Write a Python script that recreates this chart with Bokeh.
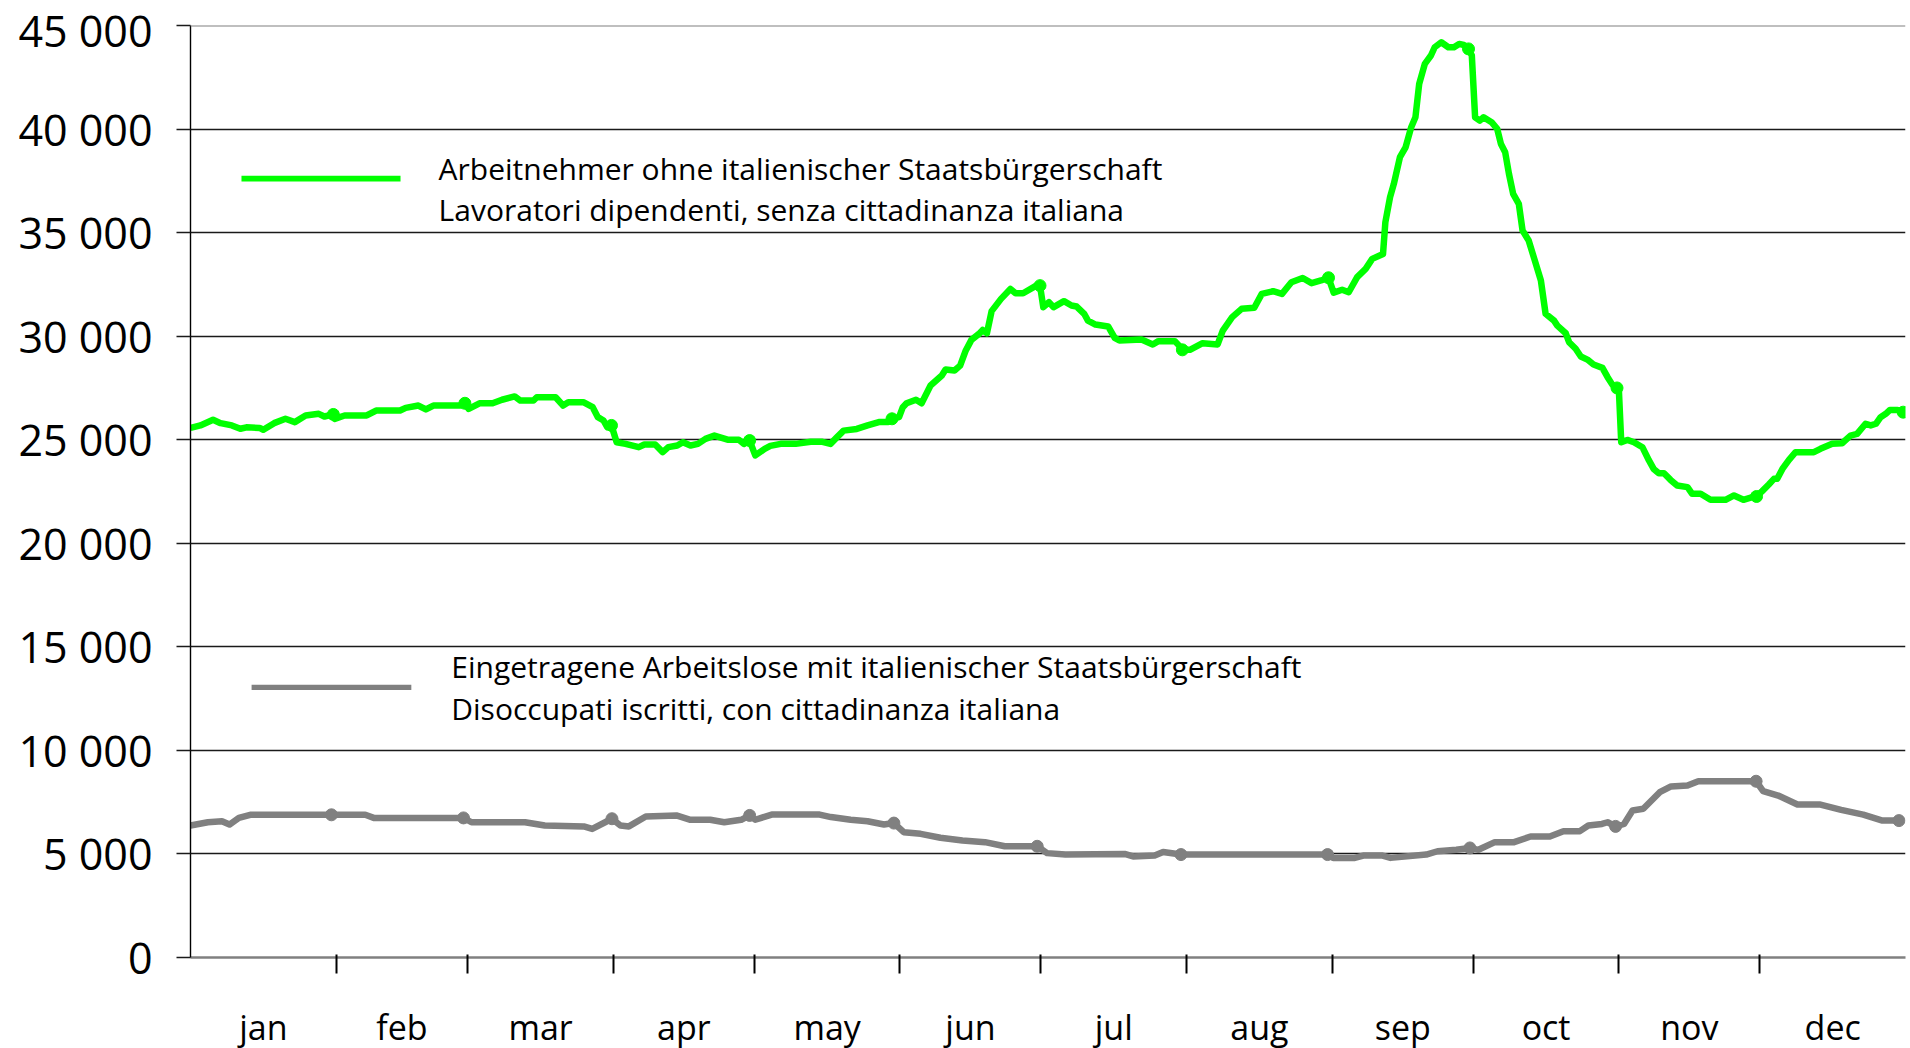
from bokeh.plotting import figure
from bokeh.models import (FixedTicker, Span, BoxAnnotation, Label, Range1d,
                          CustomJSTickFormatter)
from bokeh.embed import file_html
from bokeh.resources import INLINE

# ---------------- data ----------------
months = ["jan", "feb", "mar", "apr", "may", "jun",
          "jul", "aug", "sep", "oct", "nov", "dec"]
month_len = [31, 28, 31, 30, 31, 30, 31, 31, 30, 31, 30, 31]
y_ticks = [0, 5000, 10000, 15000, 20000, 25000, 30000, 35000, 40000, 45000]

# Arbeitnehmer ohne italienischer Staatsbuergerschaft (day of year, value)
green_day = [0.0, 2.1, 4.8, 6.4, 8.8, 10.6, 11.9, 14.7, 15.5, 17.8,
             20.2, 22.2, 24.5, 27.3, 28.5, 30.4, 30.7, 32.8, 37.5, 39.5,
             44.6, 45.8, 48.5, 50.1, 51.7, 57.6, 58.4, 59.2, 61.5, 64.3,
             66.3, 69.0, 70.2, 73.0, 73.7, 77.7, 79.3, 80.4, 83.6, 85.6,
             86.7, 87.9, 88.7, 89.6, 90.7, 92.6, 95.4, 96.6, 98.9, 100.5,
             101.7, 103.6, 104.8, 106.4, 108.0, 109.6, 111.5, 114.3, 116.7, 117.8,
             119.0, 120.2, 122.2, 123.4, 125.6, 128.8, 132.0, 134.5, 136.2, 137.5,
             139.0, 141.8, 144.1, 146.5, 148.5, 149.3, 150.8, 151.6, 152.4, 154.4,
             155.6, 157.5, 159.9, 160.7, 162.6, 163.8, 165.0, 166.2, 167.8, 168.6,
             169.5, 170.5, 172.5, 174.5, 175.6, 177.2, 180.0, 180.8, 181.5, 182.7,
             183.7, 185.9, 187.5, 188.6, 190.2, 191.0, 192.6, 195.3, 196.7, 197.7,
             202.4, 204.8, 206.0, 209.5, 210.7, 211.1, 212.7, 215.4, 218.6, 219.7,
             221.7, 223.7, 226.4, 228.0, 230.4, 232.3, 234.3, 236.7, 238.6, 240.6,
             242.2, 243.3, 245.1, 246.5, 248.3, 250.1, 251.5, 253.8, 254.3, 255.3,
             256.1, 257.4, 258.6, 259.8, 260.7, 261.5, 262.7, 264.0, 264.8, 266.2,
             267.7, 268.9, 270.0, 271.0, 272.0, 272.7, 273.4, 274.4, 275.2, 276.9,
             278.1, 278.9, 279.8, 280.6, 281.5, 282.7, 283.5, 284.8, 286.0, 287.4,
             288.4, 290.2, 290.9, 292.7, 293.4, 294.8, 295.9, 297.3, 298.6, 300.5,
             301.6, 302.6, 303.6, 304.0, 304.5, 305.8, 307.2, 309.0, 310.4, 311.4,
             312.5, 313.6, 315.0, 316.4, 318.6, 319.6, 321.4, 323.5, 326.7, 328.5,
             330.5, 332.4, 333.3, 334.5, 335.9, 337.0, 337.7, 338.8, 340.2, 341.6,
             345.5, 346.9, 349.4, 351.5, 353.3, 354.7, 356.5, 357.6, 358.7, 359.7,
             360.8, 361.7, 363.3, 364.5]
green_val = [25570, 25690, 25960, 25800, 25690, 25530, 25600, 25570, 25480, 25800,
             26010, 25850, 26170, 26250, 26120, 26220, 26010, 26170, 26170, 26410,
             26410, 26540, 26650, 26460, 26650, 26650, 26760, 26490, 26760, 26760,
             26930, 27090, 26890, 26890, 27050, 27050, 26650, 26810, 26810, 26570,
             26090, 25930, 25600, 25690, 24880, 24800, 24640, 24770, 24770, 24400,
             24640, 24720, 24880, 24720, 24800, 25040, 25200, 25000, 25000, 24800,
             24960, 24240, 24560, 24700, 24800, 24800, 24900, 24900, 24800, 25100,
             25440, 25520, 25690, 25850, 25850, 26010, 26090, 26570, 26760, 26930,
             26760, 27620, 28100, 28390, 28340, 28580, 29310, 29820, 30110, 30300,
             30140, 31210, 31800, 32280, 32070, 32070, 32440, 32440, 31400, 31640,
             31400, 31690, 31480, 31430, 31080, 30750, 30560, 30470, 29920, 29790,
             29840, 29600, 29760, 29760, 29470, 29340, 29340, 29660, 29600, 30270,
             30920, 31320, 31370, 32040, 32170, 32040, 32600, 32810, 32560, 32690,
             32820, 32100, 32240, 32120, 32850, 33250, 33730, 33970, 35500, 36710,
             37350, 38640, 39120, 40090, 40570, 42180, 43150, 43550, 43950, 44190,
             43950, 43950, 44110, 44060, 43870, 43550, 40570, 40410, 40570, 40330,
             40010, 39280, 38880, 37840, 36870, 36390, 35100, 34620, 33730, 32690,
             31080, 30750, 30510, 30140, 29710, 29390, 29020, 28870, 28630, 28470,
             28020, 27660, 27500, 27380, 24880, 24990, 24880, 24640, 24000, 23590,
             23380, 23380, 23060, 22790, 22710, 22390, 22390, 22100, 22100, 22310,
             22100, 22230, 22260, 22520, 22840, 23110, 23110, 23590, 24030, 24400,
             24400, 24560, 24800, 24830, 25200, 25280, 25770, 25690, 25770, 26090,
             26250, 26440, 26440, 26330]
green_dot_day = [30.4, 58.4, 89.6, 119.0, 149.3, 180.8, 211.1, 242.2, 272.0, 303.6, 333.3, 364.5]
green_dot_val = [26220, 26760, 25690, 24960, 26010, 32440, 29340, 32820, 43870, 27500, 22260, 26330]

# Eingetragene Arbeitslose mit italienischer Staatsbuergerschaft
grey_day = [0.0, 3.7, 6.7, 8.3, 10.3, 12.7, 30.0, 37.2, 39.0, 58.1,
            59.8, 71.2, 75.4, 83.7, 85.5, 89.7, 91.5, 93.3, 96.9, 103.4,
            106.4, 110.6, 113.6, 117.2, 119.0, 120.2, 123.7, 133.9, 136.3, 140.5,
            144.1, 147.6, 149.7, 151.8, 155.4, 159.6, 164.3, 169.1, 173.3, 180.2,
            182.3, 186.2, 198.8, 200.6, 205.2, 207.0, 210.8, 242.0, 243.2, 247.8,
            249.6, 253.7, 255.4, 263.0, 265.4, 269.4, 272.3, 274.1, 277.6, 281.7,
            285.2, 289.3, 292.2, 295.7, 297.5, 300.4, 301.6, 303.3, 305.1, 306.9,
            309.2, 312.7, 315.1, 318.6, 320.9, 333.2, 334.7, 337.9, 342.0, 346.7,
            351.3, 356.0, 360.1, 363.6]
grey_val = [6370, 6530, 6580, 6420, 6740, 6890, 6890, 6890, 6740, 6740,
            6530, 6530, 6370, 6330, 6210, 6700, 6370, 6330, 6810, 6860,
            6650, 6650, 6530, 6650, 6860, 6650, 6900, 6900, 6780, 6650,
            6580, 6420, 6490, 6050, 5970, 5780, 5650, 5570, 5370, 5370,
            5040, 4970, 5000, 4880, 4920, 5090, 4970, 4970, 4810, 4810,
            4920, 4920, 4810, 4970, 5130, 5200, 5290, 5200, 5570, 5570,
            5840, 5840, 6100, 6100, 6370, 6450, 6530, 6330, 6450, 7100,
            7180, 7980, 8260, 8300, 8510, 8510, 8030, 7820, 7390, 7390,
            7130, 6900, 6610, 6610]
grey_dot_day = [30.0, 58.1, 89.7, 119.0, 149.7, 180.2, 210.8, 242.0, 272.3, 303.3, 333.2, 363.6]
grey_dot_val = [6890, 6740, 6700, 6860, 6490, 5370, 4970, 4970, 5290, 6330, 8510, 6610]

green_label = ["Arbeitnehmer ohne italienischer Staatsbürgerschaft",
               "Lavoratori dipendenti, senza cittadinanza italiana"]
grey_label = ["Eingetragene Arbeitslose mit italienischer Staatsbürgerschaft",
              "Disoccupati iscritti, con cittadinanza italiana"]

# ---------------- styles ----------------
GREEN = "#00ff00"
GREY = "#808080"
FONT = "Open Sans"

bounds = [0]
for m in month_len:
    bounds.append(bounds[-1] + m)
mids = [(bounds[i] + bounds[i + 1]) / 2 for i in range(12)]

p = figure(frame_width=1715, frame_height=932,
           x_range=Range1d(0, bounds[-1]), y_range=Range1d(y_ticks[0], y_ticks[-1]),
           output_backend="svg", toolbar_location=None,
           min_border_left=190, min_border_top=25, min_border_right=4,
           min_border_bottom=10)
p.outline_line_color = None
p.background_fill_color = "white"
p.border_fill_color = "white"

# grid
p.xgrid.visible = False
p.ygrid.ticker = FixedTicker(ticks=y_ticks[1:-1])
p.ygrid.grid_line_color = "#1a1a1a"
p.ygrid.grid_line_width = 1.4
p.add_layout(Span(location=y_ticks[-1], dimension="width",
                  line_color=GREY, line_width=2))

# y axis
p.yaxis.ticker = FixedTicker(ticks=y_ticks)
p.yaxis.formatter = CustomJSTickFormatter(
    code="return String(Math.round(tick)).replace(/\\B(?=(\\d{3})+(?!\\d))/g, ' ');")
p.yaxis.major_label_text_font = FONT
p.yaxis.major_label_text_font_size = "43px"
p.yaxis.major_label_text_color = "black"
p.yaxis.major_label_standoff = 24
p.yaxis.major_tick_in = 0
p.yaxis.major_tick_out = 14
p.yaxis.major_tick_line_color = "#1a1a1a"
p.yaxis.major_tick_line_width = 1.4
p.yaxis.minor_tick_line_color = None
p.yaxis.axis_line_color = "black"
p.yaxis.axis_line_width = 1.4

# x axis
p.xaxis.ticker = FixedTicker(ticks=mids, minor_ticks=bounds[1:-1])
p.xaxis.formatter = CustomJSTickFormatter(
    args=dict(names=months, bounds=bounds),
    code="""
    for (let i = 0; i < names.length; i++) {
        if (tick > bounds[i] && tick < bounds[i + 1]) return names[i];
    }
    return '';
    """)
p.xaxis.major_label_text_font = FONT
p.xaxis.major_label_text_font_size = "34px"
p.xaxis.major_label_text_color = "black"
p.xaxis.major_label_standoff = 30
p.xaxis.major_tick_in = 0
p.xaxis.major_tick_out = 0
p.xaxis.major_tick_line_color = None
p.xaxis.minor_tick_in = 3
p.xaxis.minor_tick_out = 16
p.xaxis.minor_tick_line_color = "black"
p.xaxis.minor_tick_line_width = 2
p.xaxis.axis_line_color = GREY
p.xaxis.axis_line_width = 2.5

# series
p.line(green_day, green_val, line_color=GREEN, line_width=6.5, line_join="round")
p.scatter(green_dot_day, green_dot_val, size=12, color=GREEN)
p.line(grey_day, grey_val, line_color=GREY, line_width=6.5, line_join="round")
p.scatter(grey_dot_day, grey_dot_val, size=12, color=GREY)

# legends (swatch + two text lines each)
def legend(x0, x1, y, thick, color, tx, ty1, ty2, lines):
    p.add_layout(BoxAnnotation(left=x0, right=x1, bottom=y - thick, top=y + thick,
                               fill_color=color, fill_alpha=1.0, line_alpha=0))
    for ty, t in zip((ty1, ty2), lines):
        p.add_layout(Label(x=tx, y=ty, text=t, text_font=FONT, text_font_size="30px",
                           text_color="black", text_baseline="alphabetic",
                           text_align="left"))

legend(10.85, 44.7, 37610, 140, GREEN, 52.8, 38110, 36130, green_label)
legend(13.0, 47.0, 13040, 125, GREY, 55.5, 14040, 12040, grey_label)

open("out.html", "w").write(file_html(p, INLINE))
